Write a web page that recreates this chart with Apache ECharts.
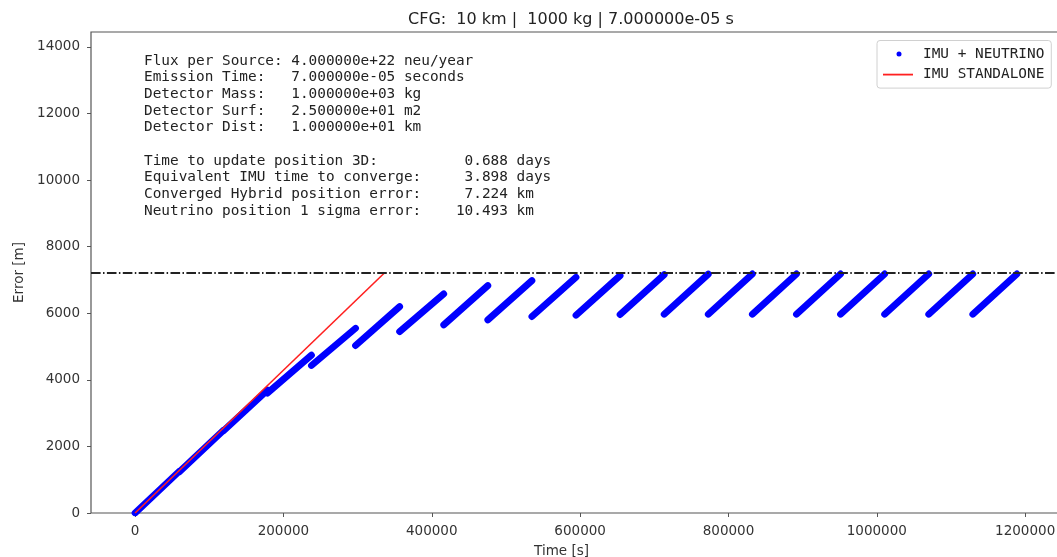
<!DOCTYPE html>
<html>
<head>
<meta charset="utf-8">
<script src="https://cdn.jsdelivr.net/npm/echarts@6/dist/echarts.min.js"></script>
<style>html,body{margin:0;padding:0;background:#fff}#chart{width:1057px;height:557px}</style>
</head>
<body>
<div id="chart"></div>
<script>
// ---- data ----
const titleText = 'CFG:  10 km |  1000 kg | 7.000000e-05 s';
// update instants (s), one every 0.688 days
const updateTimes = [0, 59443, 118886, 178330, 237773, 297216, 356659, 416102, 475546, 534989, 594432,
  653875, 713318, 772762, 832205, 891648, 951091, 1010534, 1069978, 1129421, 1188864];
// hybrid (IMU + neutrino) error at start and end of each update interval (m)
const hybridStartErr = [0, 1230, 2460, 3600, 4430, 5030, 5450, 5650, 5800, 5900, 5940, 5960, 5970, 5970, 5970, 5970, 5970, 5970, 5970, 5970];
const hybridEndErr   = [1250, 2480, 3690, 4740, 5550, 6200, 6580, 6830, 6980, 7080, 7130, 7160, 7175, 7180, 7180, 7180, 7180, 7180, 7180, 7180];
// IMU standalone error (m)
const standaloneTime = [0, 336787];
const standaloneErr = [0, 7224];
const convergedErr = 7224;
const xTicks = [0, 200000, 400000, 600000, 800000, 1000000, 1200000];
const yTicks = [0, 2000, 4000, 6000, 8000, 10000, 12000, 14000];
const infoLines = [
  'Flux per Source: 4.000000e+22 neu/year',
  'Emission Time:   7.000000e-05 seconds',
  'Detector Mass:   1.000000e+03 kg',
  'Detector Surf:   2.500000e+01 m2',
  'Detector Dist:   1.000000e+01 km',
  '',
  'Time to update position 3D:          0.688 days',
  'Equivalent IMU time to converge:     3.898 days',
  'Converged Hybrid position error:     7.224 km',
  'Neutrino position 1 sigma error:    10.493 km'
];
const seriesNames = ['IMU + NEUTRINO', 'IMU STANDALONE'];

// ---- build ----
const hybridData = [];
for (let i = 0; i < hybridStartErr.length; i++) {
  hybridData.push([updateTimes[i], hybridStartErr[i]]);
  hybridData.push([updateTimes[i + 1], hybridEndErr[i]]);
  hybridData.push([updateTimes[i + 1], '-']);
}
const standaloneData = standaloneTime.map((t, i) => [t, standaloneErr[i]]);

const chart = echarts.init(document.getElementById('chart'), null, {renderer: 'canvas'});
const txt = '#333';
const sans = 'DejaVu Sans';
const mono = 'DejaVu Sans Mono';
const plain = v => String(v);

chart.setOption({
  animation: false,
  backgroundColor: '#fff',
  title: {
    text: titleText, left: 403, top: 7,
    textStyle: {fontFamily: sans, fontSize: 16, fontWeight: 'normal', color: '#222'}
  },
  grid: {left: 91, right: -4, top: 32, bottom: 44, show: true, borderColor: '#555', borderWidth: 1.2,
    backgroundColor: 'transparent', containLabel: false, outerBoundsMode: 'none'},
  xAxis: {
    type: 'value', min: -59443, max: 1248307,
    name: 'Time [s]', nameLocation: 'middle', nameGap: 31,
    nameTextStyle: {fontFamily: sans, fontSize: 13.5, color: txt, padding: [0, 29, 0, 0]},
    splitLine: {show: false},
    axisLine: {show: false, onZero: false},
    axisTick: {show: true, inside: false, length: 4, lineStyle: {color: '#555'}, customValues: xTicks},
    axisLabel: {fontFamily: sans, fontSize: 13.5, color: txt, margin: 11, customValues: xTicks, formatter: plain}
  },
  yAxis: {
    type: 'value', min: 0, max: 14448,
    name: 'Error [m]', nameLocation: 'middle', nameGap: 60, nameRotate: 90,
    nameTextStyle: {fontFamily: sans, fontSize: 13.5, color: txt},
    splitLine: {show: false},
    axisLine: {show: false, onZero: false},
    axisTick: {show: true, inside: false, length: 4, lineStyle: {color: '#555'}, customValues: yTicks},
    axisLabel: {fontFamily: sans, fontSize: 13.5, color: txt, margin: 11, customValues: yTicks, formatter: plain}
  },
  legend: {
    orient: 'vertical', left: 877, top: 40.5,
    padding: [5, 7, 5, 6], itemGap: 3.6, itemWidth: 35, itemHeight: 5,
    backgroundColor: 'rgba(255,255,255,0.85)', borderColor: '#d0d0d0', borderWidth: 1, borderRadius: 3,
    textStyle: {fontFamily: mono, fontSize: 14.4, color: '#222', lineHeight: 17},
    data: [
      {name: seriesNames[0], icon: 'path://M0,0M35,5M13.5,2.5A2.5,2.5,0,1,1,18.5,2.5A2.5,2.5,0,1,1,13.5,2.5Z', itemStyle: {color: '#0000ff', borderWidth: 0}},
      {name: seriesNames[1], icon: 'path://M0,0M35,5M0,1.6H30V3.4H0Z', itemStyle: {color: '#ff2020', borderWidth: 0}}
    ]
  },
  graphic: [{
    type: 'text', left: 144, top: 52.5, silent: true,
    style: {text: infoLines.join('\n'), font: '14.4px "DejaVu Sans Mono"', fill: '#222', lineHeight: 16.7}
  }],
  series: [
    {
      name: seriesNames[0], type: 'line', data: hybridData, showSymbol: false, symbol: 'none',
      connectNulls: false, color: '#0000ff',
      lineStyle: {color: '#0000ff', width: 6.8, cap: 'round', join: 'round'},
      z: 2
    },
    {
      name: seriesNames[1], type: 'line', data: standaloneData, showSymbol: false, symbol: 'none',
      color: '#ff2020', lineStyle: {color: '#ff2020', width: 1.6},
      z: 3,
      markLine: {
        silent: true, symbol: 'none', label: {show: false},
        lineStyle: {color: '#222', width: 1.8, type: [9.6, 2.4, 1.5, 2.4]},
        data: [{yAxis: convergedErr}]
      }
    }
  ]
});
</script>
</body>
</html>
